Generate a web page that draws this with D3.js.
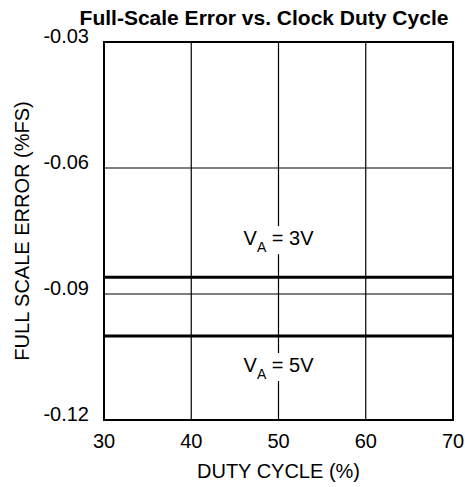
<!DOCTYPE html>
<html>
<head>
<meta charset="utf-8">
<script src="https://cdn.jsdelivr.net/npm/d3@7"></script>
<style>
  body { margin: 0; background: #fff; }
  text { font-family: "Liberation Sans", Arial, sans-serif; fill: #000; }
</style>
</head>
<body>
<div id="chart"></div>
<script>
	// data
	var dutyTicks = [30, 40, 50, 60, 70];
	var errTicks = [-0.03, -0.06, -0.09, -0.12];
	var dutyCycle = [30, 70];
	var err3V = [-0.086, -0.086];
	var err5V = [-0.100, -0.100];
	var seriesLabels = ["3V", "5V"];

	var w = 465;
	var h = 487;
	var plotL = 104, plotR = 453, plotT = 42, plotB = 420;

	var svg = d3.select("#chart")
		.append("svg")
		.attr("width", w)
		.attr("height", h);

	var x = d3.scaleLinear().domain([30, 70]).range([plotL, plotR]);
	var y = d3.scaleLinear().domain([-0.12, -0.03]).range([plotB, plotT]);

	// grid
	svg.selectAll(".gx")
		.data(dutyTicks.slice(1, -1))
		.enter()
		.append("line")
		.attr("x1", function(d) { return x(d); })
		.attr("x2", function(d) { return x(d); })
		.attr("y1", plotT)
		.attr("y2", plotB)
		.style("stroke", "#000")
		.style("stroke-width", 1.2);

	svg.selectAll(".gy")
		.data(errTicks.slice(1, -1))
		.enter()
		.append("line")
		.attr("x1", plotL)
		.attr("x2", plotR)
		.attr("y1", function(d) { return y(d); })
		.attr("y2", function(d) { return y(d); })
		.style("stroke", "#000")
		.style("stroke-width", 1.2);

	// frame
	svg.append("rect")
		.attr("x", plotL)
		.attr("y", plotT)
		.attr("width", plotR - plotL)
		.attr("height", plotB - plotT)
		.style("fill", "none")
		.style("stroke", "#000")
		.style("stroke-width", 2);

	// data lines
	var line = d3.line()
		.x(function(d) { return x(d[0]); })
		.y(function(d) { return y(d[1]); });

	[err3V, err5V].forEach(function(s) {
		svg.append("path")
			.datum(dutyCycle.map(function(d, i) { return [d, s[i]]; }))
			.attr("d", line)
			.style("fill", "none")
			.style("stroke", "#000")
			.style("stroke-width", 3);
	});

	// series labels (white box hides grid line behind text)
	function drawLabel(txt, value, offset) {
		var g = svg.append("g")
			.attr("transform", "translate(" + x(50) + "," + (y(value) + offset) + ")");
		g.append("rect")
			.attr("x", -38).attr("y", -19)
			.attr("width", 76).attr("height", 28)
			.style("fill", "#fff");
		var t = g.append("text")
			.attr("text-anchor", "middle")
			.style("font-size", "20px");
		t.append("tspan").text("V");
		t.append("tspan").attr("dy", 7).style("font-size", "14px").text("A");
		t.append("tspan").attr("dy", -7).text(" = " + txt);
	}
	drawLabel(seriesLabels[0], err3V[0], -32);
	drawLabel(seriesLabels[1], err5V[0], 36);

	// tick labels
	svg.selectAll(".tx")
		.data(dutyTicks)
		.enter()
		.append("text")
		.attr("x", function(d) { return x(d); })
		.attr("y", plotB + 28)
		.attr("text-anchor", "middle")
		.style("font-size", "20px")
		.text(function(d) { return d; });

	svg.selectAll(".ty")
		.data(errTicks)
		.enter()
		.append("text")
		.attr("x", 89)
		.attr("y", function(d) { return y(d) + 1; })
		.attr("text-anchor", "end")
		.style("font-size", "20px")
		.text(function(d) { return d.toFixed(2); });

	// titles
	svg.append("text")
		.attr("x", 264)
		.attr("y", 25)
		.attr("text-anchor", "middle")
		.style("font-size", "21px")
		.style("font-weight", "bold")
		.text("Full-Scale Error vs. Clock Duty Cycle");

	svg.append("text")
		.attr("x", (plotL + plotR) / 2)
		.attr("y", 478)
		.attr("text-anchor", "middle")
		.style("font-size", "20px")
		.text("DUTY CYCLE (%)");

	svg.append("text")
		.attr("transform", "translate(29," + ((plotT + plotB) / 2) + ") rotate(-90)")
		.attr("text-anchor", "middle")
		.style("font-size", "20px")
		.text("FULL SCALE ERROR (%FS)");
</script>
</body>
</html>
